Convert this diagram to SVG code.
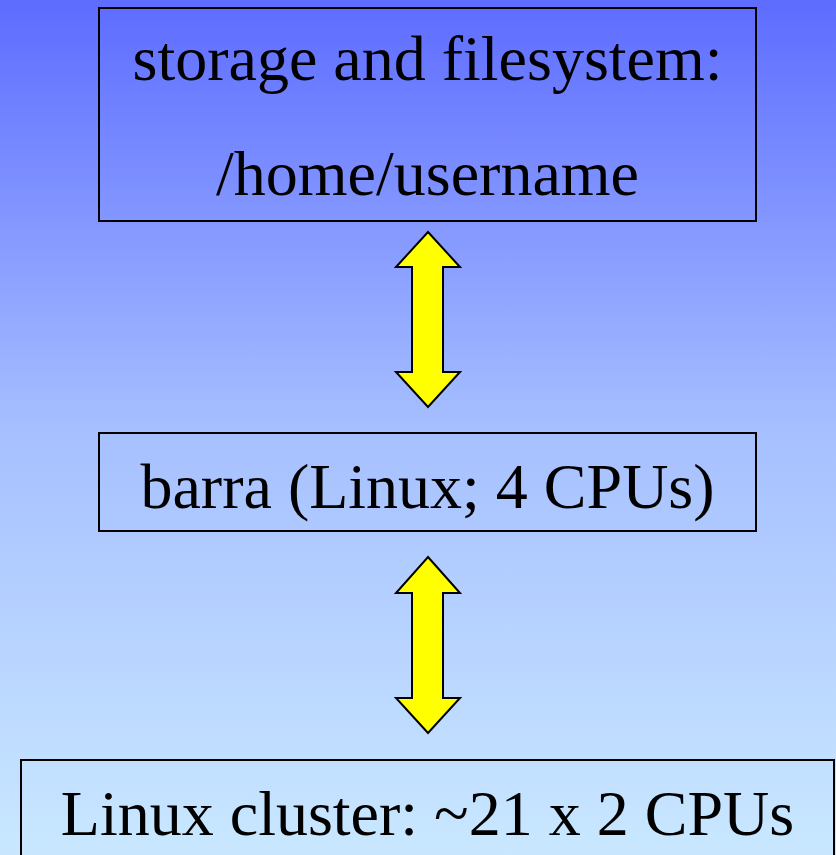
<svg xmlns="http://www.w3.org/2000/svg" width="836" height="855" viewBox="0 0 836 855">
<defs>
<linearGradient id="bg" x1="0" y1="0" x2="0" y2="1">
<stop offset="0" stop-color="#5e6cff"/>
<stop offset="0.5" stop-color="#a6bfff"/>
<stop offset="1" stop-color="#c9e8ff"/>
</linearGradient>
<style>
.box{fill:none;stroke:#000;stroke-width:2}
.lbl{font-family:"Liberation Serif","Times New Roman",serif;font-size:64px;fill:#000;text-anchor:middle}
.arr{fill:#ffff00;stroke:#000;stroke-width:2;stroke-linejoin:miter}
</style>
</defs>
<rect x="0" y="0" width="836" height="855" fill="url(#bg)"/>
<g id="storage">
<rect class="box" x="99" y="8" width="657" height="213"/>
<text class="lbl" x="427.5" y="80">storage and filesystem:</text>
<text class="lbl" x="427.5" y="195">/home/username</text>
</g>
<g id="barra">
<rect class="box" x="99" y="433" width="657" height="98"/>
<text class="lbl" x="427.5" y="508">barra (Linux; 4 CPUs)</text>
</g>
<g id="cluster">
<rect class="box" x="21" y="760" width="813" height="110"/>
<text class="lbl" x="427.5" y="835">Linux cluster: ~21 x 2 CPUs</text>
</g>
<g id="connectors">
<polygon class="arr" points="428,232 460,267 443,267 443,372 460,372 428,407 396,372 412,372 412,267 396,267"/>
<polygon class="arr" points="428,557 460,593 443,593 443,698 460,698 428,733 396,698 412,698 412,593 396,593"/>
</g>
</svg>
